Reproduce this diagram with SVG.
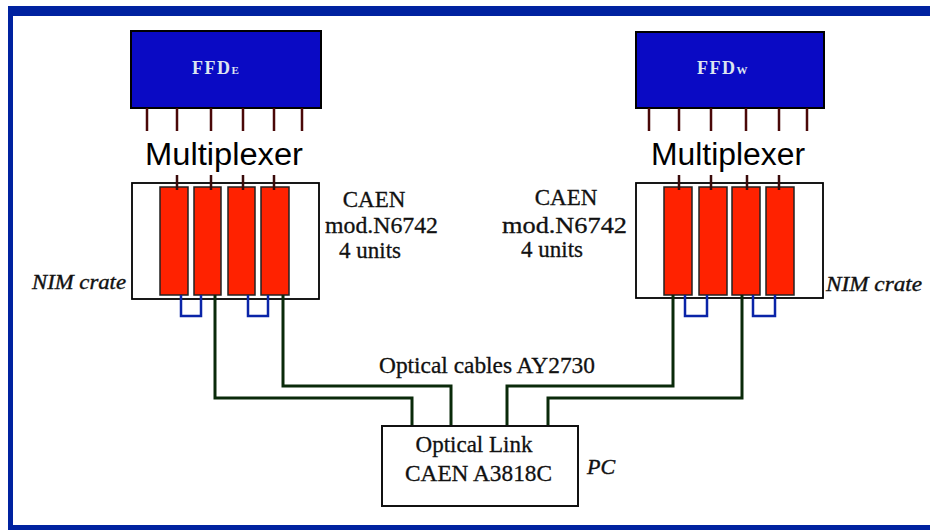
<svg xmlns="http://www.w3.org/2000/svg" width="930" height="530" viewBox="0 0 930 530">
<style>
.frame{fill:#0022a0}
.ffd{fill:#0a0ac4;stroke:#000;stroke-width:2}
.ffdt{font-family:"Liberation Serif",serif;font-weight:bold;font-size:18px;fill:#dde4f0;letter-spacing:1.5px}
.pin{stroke:#4a0808;stroke-width:2.5}
.mpin{stroke:#3a0a0a;stroke-width:2.5}
.mux{font-family:"Liberation Sans",Arial,sans-serif;font-size:31px;fill:#000}
.crate{fill:#fff;stroke:#000;stroke-width:1.8}
.mod{fill:#ff2200;stroke:#222;stroke-width:1.5}
.loop{fill:none;stroke:#0a24a8;stroke-width:2.5}
.cable{fill:none;stroke:#0a2a0a;stroke-width:3}
.lbl{font-family:"Liberation Serif","Times New Roman",serif;font-size:23px;fill:#111;stroke:#111;stroke-width:0.3}
.it{font-family:"Liberation Serif","Times New Roman",serif;font-style:italic;font-size:22px;fill:#111;stroke:#111;stroke-width:0.4}
.box{fill:#fff;stroke:#111;stroke-width:2}
</style>
<rect width="930" height="530" fill="#fff"/>
<g id="frame">
<rect class="frame" x="8" y="6" width="922" height="10"/>
<rect class="frame" x="8" y="6" width="5" height="524"/>
<rect class="frame" x="8" y="525" width="922" height="5"/>
</g>
<g id="ffd-e">
<rect class="ffd" x="131" y="31" width="190" height="77"/>
<text class="ffdt" x="192" y="74">FFD<tspan font-size="11px">E</tspan></text>
<path class="pin" d="M147 108V131M177 108V131M211 108V131M243 108V131M274 108V131M302 108V131"/>
</g>
<g id="ffd-w">
<rect class="ffd" x="636" y="32" width="188" height="76"/>
<text class="ffdt" x="697" y="74">FFD<tspan font-size="11px">W</tspan></text>
<path class="pin" d="M649 108V131M679 108V131M711 108V131M746 108V131M779 108V131M807 108V131"/>
</g>
<g id="mux-e">
<text class="mux" x="145" y="165" textLength="158" lengthAdjust="spacingAndGlyphs">Multiplexer</text>
</g>
<g id="mux-w">
<text class="mux" x="651" y="165" textLength="154" lengthAdjust="spacingAndGlyphs">Multiplexer</text>
</g>
<g id="crate-e">
<rect class="crate" x="132" y="183" width="187" height="116"/>
<rect class="mod" x="160" y="187" width="28" height="108"/>
<rect class="mod" x="194" y="187" width="27" height="108"/>
<rect class="mod" x="228" y="187" width="27" height="108"/>
<rect class="mod" x="261" y="187" width="28" height="108"/>
<path class="mpin" d="M177 175V190M211 175V190M243 175V190M274 175V190"/>
<path class="loop" d="M181 295V316H201V295M248 295V316H268V295"/>
<text class="it" x="32" y="289" textLength="94" lengthAdjust="spacingAndGlyphs">NIM crate</text>
<text class="lbl" x="374" y="207" text-anchor="middle">CAEN</text>
<text class="lbl" x="325" y="233" textLength="113" lengthAdjust="spacingAndGlyphs">mod.N6742</text>
<text class="lbl" x="339" y="258">4 units</text>
</g>
<g id="crate-w">
<rect class="crate" x="636" y="183" width="187" height="115"/>
<rect class="mod" x="664" y="187" width="28" height="108"/>
<rect class="mod" x="699" y="187" width="28" height="108"/>
<rect class="mod" x="732" y="187" width="28" height="108"/>
<rect class="mod" x="766" y="187" width="28" height="108"/>
<path class="mpin" d="M679 175V190M711 175V190M747 175V190M779 175V190"/>
<path class="loop" d="M685 295V316H707V295M753 295V316H775V295"/>
<text class="it" x="826" y="291" textLength="96" lengthAdjust="spacingAndGlyphs">NIM crate</text>
<text class="lbl" x="566" y="205" text-anchor="middle">CAEN</text>
<text class="lbl" x="502" y="233" textLength="125" lengthAdjust="spacingAndGlyphs">mod.N6742</text>
<text class="lbl" x="521" y="257">4 units</text>
</g>
<g id="connectors">
<path class="cable" d="M215 295V398H412V426"/>
<path class="cable" d="M283 295V386H451V426"/>
<path class="cable" d="M673 295V386H507V426"/>
<path class="cable" d="M742 295V398H548V426"/>
<text class="lbl" x="379" y="373" font-size="22px" textLength="216" lengthAdjust="spacingAndGlyphs">Optical cables AY2730</text>
</g>
<g id="optical-link">
<rect class="box" x="382" y="426" width="196" height="80"/>
<text class="lbl" x="474" y="452" text-anchor="middle">Optical Link</text>
<text class="lbl" x="405" y="481" textLength="147" lengthAdjust="spacingAndGlyphs">CAEN A3818C</text>
<text class="it" x="587" y="474" font-size="22px">PC</text>
</g>
</svg>
